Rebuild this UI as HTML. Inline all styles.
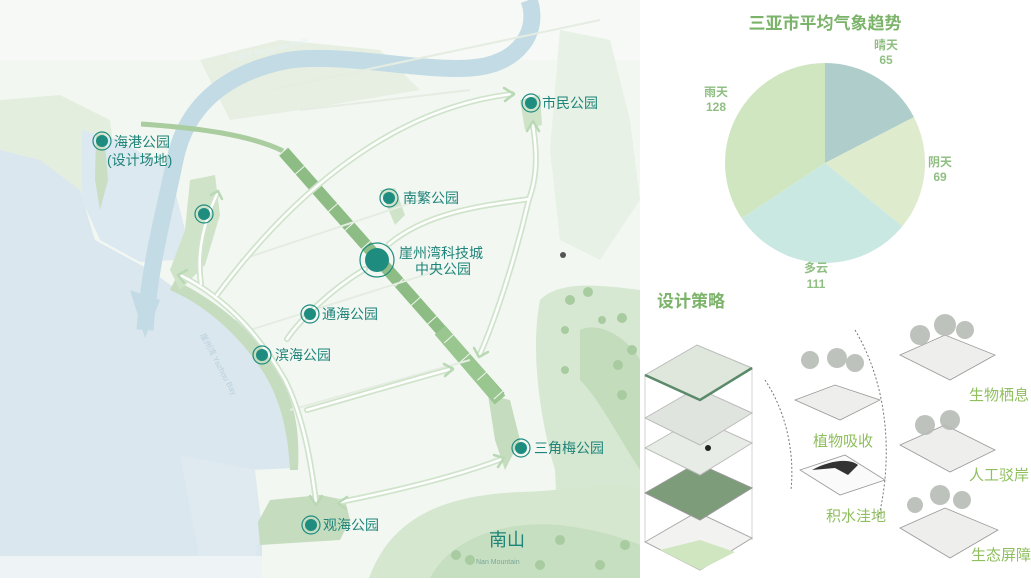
<!DOCTYPE html>
<html><head><meta charset="utf-8"><style>
html,body{margin:0;padding:0;background:#fff;}
body{width:1031px;height:578px;overflow:hidden;font-family:"Liberation Sans","Noto Sans CJK SC",sans-serif;}
</style></head><body>
<svg width="1031" height="578" viewBox="0 0 1031 578" xmlns="http://www.w3.org/2000/svg" font-family="Liberation Sans, Noto Sans CJK SC, sans-serif">
<!-- map background -->
<rect x="0" y="0" width="640" height="578" fill="#f3f7f2"/>
<rect x="0" y="0" width="640" height="60" fill="#f6f9f5"/>
<!-- light green land patches -->
<path d="M0,100 L60,95 L110,120 L120,200 L60,215 L0,190Z" fill="#e3eede"/>
<path d="M200,60 L280,40 L380,50 L420,90 L300,110 L230,120Z" fill="#e6efe2"/>
<path d="M560,30 L610,40 L630,120 L640,200 L600,260 L560,240 L550,150Z" fill="#e8f1e5"/>
<!-- sea -->
<path d="M0,150 L40,160 L80,190 L95,240 L150,270 L180,292 L240,322 L272,362 L292,420 L296,468 L250,470 L255,500 L262,540 L262,578 L0,578Z" fill="#dbe7ef"/>
<path d="M82,130 L120,140 L170,170 L185,230 L175,260 L140,262 L100,240 L82,200Z" fill="#dde9f0"/>
<path d="M180,455 L255,470 L262,530 L250,578 L0,578 L0,560 L200,560Z" fill="#dfe9f0"/>
<rect x="0" y="556" width="262" height="22" fill="#eef3f6"/>
<!-- river -->
<path d="M529,0 C540,30 520,65 470,68 C420,72 330,50 280,62 C220,76 185,110 175,160 C165,210 150,260 145,330" fill="none" stroke="#c3dbe5" stroke-width="17"/>
<path d="M130,290 L160,300 L145,338Z" fill="#c3dbe5"/>
<text x="230" y="62" font-size="8" fill="#e8f1f4" transform="rotate(-14 230 62)">宁远河 Ningyuan River</text>
<text x="200" y="335" font-size="8" fill="#b9d0dc" transform="rotate(62 200 335)">崖州湾 Yazhou Bay</text>
<!-- coast green belt -->
<path d="M175,280 C215,300 255,330 280,375 C295,405 300,430 298,470 L290,470 C288,430 280,400 265,375 C240,335 205,305 170,290Z" fill="#c5dcbf"/>
<path d="M190,180 L215,175 L220,215 L205,265 L180,290 L170,270 L185,230Z" fill="#cfe3c9"/>
<path d="M96,135 L104,133 L108,180 L100,210 L95,180Z" fill="#c9dec3"/>
<!-- hills right -->
<path d="M540,300 C560,280 600,285 640,290 L640,578 L560,578 L555,470 C540,420 530,350 540,300Z" fill="#d7e8d2"/>
<path d="M580,330 C600,320 630,340 640,360 L640,470 C620,440 600,400 580,380Z" fill="#c3dcbc"/>
<path d="M369,578 C390,520 440,495 520,492 C580,490 610,480 640,488 L640,578Z" fill="#d6e7d0"/>
<path d="M430,578 C450,540 500,520 560,525 C600,530 630,540 640,545 L640,578Z" fill="#c7dfc1"/>
<g fill="#a8cba0">
<circle cx="570" cy="300" r="5"/><circle cx="588" cy="292" r="5"/><circle cx="602" cy="320" r="4"/><circle cx="622" cy="318" r="5"/><circle cx="565" cy="330" r="4"/><circle cx="618" cy="365" r="5"/><circle cx="632" cy="350" r="5"/><circle cx="565" cy="370" r="4"/><circle cx="622" cy="395" r="5"/><circle cx="456" cy="555" r="5"/><circle cx="470" cy="560" r="5"/><circle cx="540" cy="565" r="5"/><circle cx="560" cy="540" r="5"/><circle cx="600" cy="565" r="5"/><circle cx="625" cy="545" r="5"/>
</g>
<!-- park patches -->
<path d="M258,522 L270,500 L320,495 L345,500 L350,520 L340,540 L260,545Z" fill="#c5dcbf"/>
<path d="M380,190 L395,188 L405,215 L395,225Z" fill="#cfe3c9"/>
<path d="M520,100 L540,95 L542,125 L525,130Z" fill="#cfe3c9"/>
<path d="M488,395 L510,400 L520,440 L505,470 L495,440Z" fill="#c5dcbf"/>
<!-- central green band -->
<path d="M141,124 C200,128 250,135 283,151" fill="none" stroke="#a9cd9f" stroke-width="5"/>
<path d="M283,151 L500,397" fill="none" stroke="#8dbd84" stroke-width="12"/>
<path d="M440,330 L500,400" fill="none" stroke="#9ac690" stroke-width="14"/>
<path d="M283,151 L500,397" fill="none" stroke="#f3f7f2" stroke-width="12" stroke-dasharray="1 24"/>
<!-- thin roads -->
<g stroke="#e5ede2" stroke-width="2" fill="none">
<path d="M270,90 L600,20"/><path d="M300,110 L470,90"/><path d="M240,260 L420,200"/><path d="M250,330 L440,270"/><path d="M290,410 L470,360"/>
</g>
<!-- arrows -->
<g fill="none" stroke-linecap="round" stroke-linejoin="round">
<g stroke="#cfe4cb" stroke-width="6">
<path d="M217,295 C280,210 380,110 512,94"/>
<path d="M389,244 C430,210 490,205 529,199 C540,170 535,140 533,125"/>
<path d="M529,199 C515,260 495,320 480,354"/>
<path d="M307,410 C360,395 410,380 451,369"/>
<path d="M180,275 C230,300 262,340 285,380 C305,420 312,470 316,502"/>
<path d="M340,502 C400,490 460,475 502,459"/>
<path d="M201,284 C196,250 205,220 217,194"/>
<path d="M365,269 C330,290 300,320 287,339"/>
</g>
<g stroke="#ffffff" stroke-width="2.5">
<path d="M217,295 C280,210 380,110 512,94"/>
<path d="M389,244 C430,210 490,205 529,199 C540,170 535,140 533,125"/>
<path d="M529,199 C515,260 495,320 480,354"/>
<path d="M307,410 C360,395 410,380 451,369"/>
<path d="M180,275 C230,300 262,340 285,380 C305,420 312,470 316,502"/>
<path d="M340,502 C400,490 460,475 502,459"/>
<path d="M201,284 C196,250 205,220 217,194"/>
<path d="M365,269 C330,290 300,320 287,339"/>
</g>
<g stroke="#b9d9b4" stroke-width="2.5">
<path d="M504,88 L514,94 L505,101"/><path d="M527,131 L533,121 L539,131"/><path d="M474,348 L479,357 L488,352"/><path d="M444,364 L453,369 L445,376"/><path d="M187,270 L178,275 L184,283"/><path d="M310,496 L316,505 L322,496"/><path d="M347,497 L338,503 L346,509"/><path d="M494,455 L504,458 L498,467"/><path d="M211,195 L218,191 L222,199"/>
</g>
</g>
<!-- markers -->
<g fill="#1f8c80">
<circle cx="102" cy="141" r="6"/><circle cx="204" cy="214" r="6"/><circle cx="531" cy="103" r="6"/><circle cx="389" cy="198" r="6"/><circle cx="377" cy="260" r="12"/><circle cx="310" cy="314" r="6"/><circle cx="262" cy="355" r="6"/><circle cx="521" cy="448" r="6"/><circle cx="311" cy="525" r="6"/>
</g>
<g fill="none" stroke="#1f8c80" stroke-width="1.2">
<circle cx="102" cy="141" r="9"/><circle cx="204" cy="214" r="9"/><circle cx="531" cy="103" r="9"/><circle cx="389" cy="198" r="9"/><circle cx="377" cy="260" r="17"/><circle cx="310" cy="314" r="9"/><circle cx="262" cy="355" r="9"/><circle cx="521" cy="448" r="9"/><circle cx="311" cy="525" r="9"/>
</g>
<circle cx="563" cy="255" r="3" fill="#555"/>
<g fill="#1e8479" font-size="14">
<text x="114" y="147">海港公园</text>
<text x="107" y="165">(设计场地)</text>
<text x="542" y="108">市民公园</text>
<text x="403" y="203">南繁公园</text>
<text x="399" y="258">崖州湾科技城</text>
<text x="415" y="274">中央公园</text>
<text x="322" y="319">通海公园</text>
<text x="275" y="360">滨海公园</text>
<text x="534" y="453">三角梅公园</text>
<text x="323" y="530">观海公园</text>
<text x="489" y="546" font-size="18">南山</text>
<text x="476" y="564" font-size="7" fill="#7aa79b">Nan Mountain</text>
</g>
<!-- pie -->
<text x="825" y="29" font-size="17" font-weight="bold" fill="#7bb36a" text-anchor="middle">三亚市平均气象趋势</text>
<path d="M825,163 L825,63 A100,100 0 0 1 913.9,117.1Z" fill="#afcdca"/>
<path d="M825,163 L913.9,117.1 A100,100 0 0 1 902.4,226.3Z" fill="#dfebcd"/>
<path d="M825,163 L902.4,226.3 A100,100 0 0 1 741.7,218.3Z" fill="#c9e8e2"/>
<path d="M825,163 L741.7,218.3 A100,100 0 0 1 825,63Z" fill="#d0e6c1"/>
<g fill="#8fbf82" font-size="12" font-weight="bold" text-anchor="middle">
<text x="886" y="49">晴天</text><text x="886" y="64">65</text>
<text x="940" y="166">阴天</text><text x="940" y="181">69</text>
<text x="816" y="272">多云</text><text x="816" y="288">111</text>
<text x="716" y="96">雨天</text><text x="716" y="111">128</text>
</g>
<text x="657" y="307" font-size="17" font-weight="bold" fill="#7bb36a">设计策略</text>
<!-- layer stack -->
<g stroke="#c8c8c8" fill="none" stroke-width="0.8">
<line x1="645" y1="375" x2="645" y2="542"/><line x1="752" y1="368" x2="752" y2="540"/><line x1="700" y1="400" x2="700" y2="570"/>
</g>
<polygon points="645,542 697,512 752,538 700,570" fill="#f2f2f0" stroke="#aaa"/>
<polygon points="660,550 700,540 735,552 700,570" fill="#cfe6c0"/>
<polygon points="645,493 697,463 752,488 700,520" fill="#7d9c7a" stroke="#999"/>
<polygon points="645,448 697,418 752,443 700,475" fill="#e8ece6" stroke="#bbb"/>
<polygon points="645,418 697,388 752,413 700,445" fill="#e0e4de" stroke="#bbb"/>
<polygon points="645,375 697,345 752,368 700,400" fill="#dfe6dc" stroke="#bbb"/>
<polyline points="645,375 700,400 752,368" fill="none" stroke="#5a8a6a" stroke-width="2.5"/>
<circle cx="708" cy="448" r="3" fill="#222"/>
<!-- dashed arcs -->
<path d="M765,380 C785,410 795,450 791,490" fill="none" stroke="#777" stroke-dasharray="2 2"/>
<path d="M855,330 C885,380 895,450 878,520" fill="none" stroke="#777" stroke-dasharray="2 2"/>
<!-- small diamonds -->
<g stroke="#999" stroke-width="0.8">
<polygon points="795,400 835,385 880,400 840,420" fill="#eeeeec"/>
<polygon points="800,470 845,455 885,480 840,495" fill="#fafafa"/>
<polygon points="900,355 945,335 995,355 950,380" fill="#eeeeec"/>
<polygon points="900,445 945,425 995,450 950,472" fill="#eeeeec"/>
<polygon points="900,528 945,508 998,530 950,558" fill="#eeeeec"/>
</g>
<path d="M812,470 C830,460 850,458 858,465 L848,475 L835,468 Z" fill="#333"/>
<g fill="#b7bcb5" opacity="0.9">
<circle cx="810" cy="360" r="9"/><circle cx="837" cy="358" r="10"/><circle cx="855" cy="363" r="9"/>
<circle cx="920" cy="335" r="10"/><circle cx="945" cy="325" r="11"/><circle cx="965" cy="330" r="9"/>
<circle cx="925" cy="425" r="10"/><circle cx="950" cy="420" r="10"/>
<circle cx="915" cy="505" r="8"/><circle cx="940" cy="495" r="10"/><circle cx="962" cy="500" r="9"/>
</g>
<g fill="#8fbf5f" font-size="15">
<text x="813" y="446">植物吸收</text>
<text x="826" y="521">积水洼地</text>
<text x="969" y="400">生物栖息</text>
<text x="969" y="480">人工驳岸</text>
<text x="971" y="560">生态屏障</text>
</g>
</svg>
</body></html>
